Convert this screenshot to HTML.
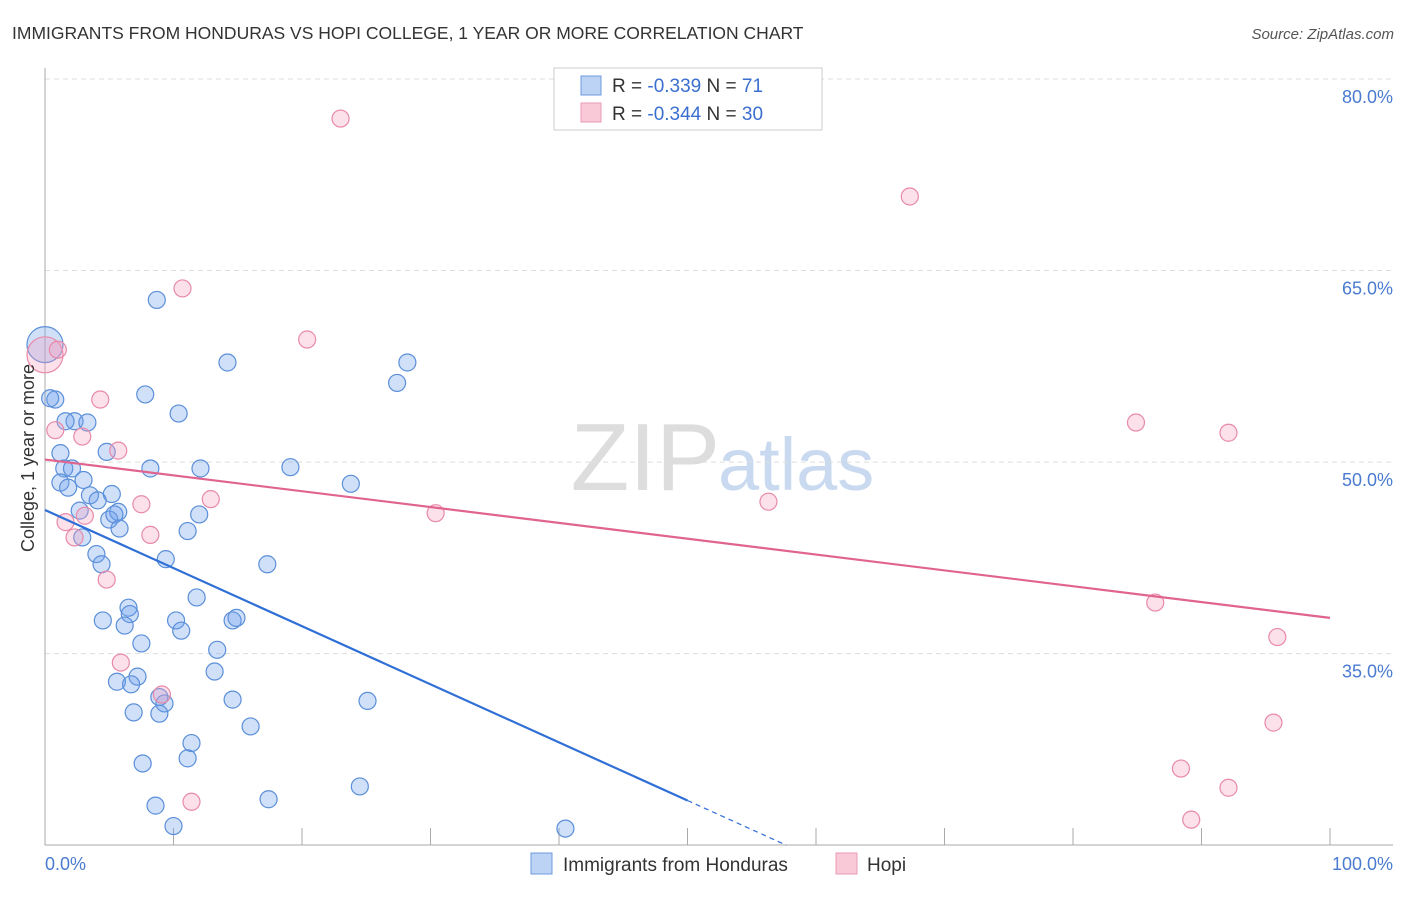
<!DOCTYPE html>
<html><head><meta charset="utf-8"><style>
body{margin:0;background:#fff;font-family:"Liberation Sans",sans-serif}
svg text{font-family:"Liberation Sans",sans-serif}
</style></head><body>
<svg id="c" width="1406" height="892" xmlns="http://www.w3.org/2000/svg">
<text x="12" y="39" font-size="17.5" fill="#333">IMMIGRANTS FROM HONDURAS VS HOPI COLLEGE, 1 YEAR OR MORE CORRELATION CHART</text>
<text x="1394" y="39" font-size="15" fill="#555" text-anchor="end" font-style="italic">Source: ZipAtlas.com</text>
<text x="720" y="490" font-size="96" fill="#ddd" text-anchor="end" font-family="Liberation Serif">ZIP</text>
<text x="718" y="490" font-size="74" fill="#c9daf0">atlas</text>
<g id="grid"></g>
<g id="axes"></g>
<g id="pts"></g>
<g id="lines"></g>
<text transform="translate(34,458) rotate(-90)" font-size="18" fill="#333" text-anchor="middle">College, 1 year or more</text>
<text x="45" y="870" font-size="18" fill="#4a7bd0">0.0%</text>
<text x="1393" y="870" font-size="18" fill="#4a7bd0" text-anchor="end">100.0%</text>
<g>
<rect x="554" y="68" width="268" height="62" fill="#fff" stroke="#ccc"/>
<rect x="581" y="76" width="20" height="19" fill="#bcd3f5" stroke="#6d9be0"/>
<rect x="581" y="103" width="20" height="19" fill="#f9c9d8" stroke="#ec9ab5"/>
<text x="612" y="92" font-size="19" fill="#333">R = <tspan fill="#3a6fd0">-0.339</tspan>   N = <tspan fill="#3a6fd0"> 71</tspan></text>
<text x="612" y="120" font-size="19" fill="#333">R = <tspan fill="#3a6fd0">-0.344</tspan>   N = <tspan fill="#3a6fd0">30</tspan></text>
</g>
<g>
<rect x="531" y="853" width="21" height="21" fill="#bcd3f5" stroke="#6d9be0"/>
<text x="563" y="871" font-size="19" fill="#333">Immigrants from Honduras</text>
<rect x="836" y="853" width="21" height="21" fill="#f9c9d8" stroke="#ec9ab5"/>
<text x="867" y="871" font-size="19" fill="#333">Hopi</text>
</g>
</svg>
<script>
const yTicks=[80,65,50,35];
const yTickLabels=["80.0%","65.0%","50.0%","35.0%"];
const xTicks=[0,10,20,30,40,50,60,70,80,90,100];
const blueX=[0,0.8,0.4,2.3,3.3,1.6,1.2,1.5,1.2,2.1,1.8,3.0,3.5,4.1,5.2,4.8,2.7,2.9,5.0,5.7,5.4,5.8,4.0,4.4,6.5,6.6,6.2,4.5,7.5,7.2,5.6,6.7,6.9,7.6,8.7,7.8,10.4,8.2,12.1,12.0,11.1,9.4,11.8,10.2,10.6,14.6,14.9,13.4,13.2,8.9,9.3,8.9,11.4,11.1,8.6,10.0,14.6,16.0,14.2,19.1,17.3,17.4,23.8,25.1,24.5,27.4,28.2,40.5];
const blueY=[59.2,54.9,55.0,53.2,53.1,53.2,50.7,49.5,48.4,49.5,48.0,48.6,47.4,47.0,47.5,50.8,46.2,44.1,45.5,46.1,45.9,44.8,42.8,42.0,38.6,38.1,37.2,37.6,35.8,33.2,32.8,32.6,30.4,26.4,62.7,55.3,53.8,49.5,49.5,45.9,44.6,42.4,39.4,37.6,36.8,37.6,37.8,35.3,33.6,31.6,31.1,30.3,28.0,26.8,23.1,21.5,31.4,29.3,57.8,49.6,42.0,23.6,48.3,31.3,24.6,56.2,57.8,21.3];
const pinkX=[0,1.0,0.8,2.9,4.3,5.7,1.6,2.3,3.1,4.8,5.9,8.2,7.5,12.9,9.1,11.4,10.7,20.4,23.0,30.4,56.3,67.3,84.9,92.1,86.4,95.9,95.6,88.4,92.1,89.2];
const pinkY=[58.4,58.8,52.5,52.0,54.9,50.9,45.3,44.1,45.8,40.8,34.3,44.3,46.7,47.1,31.8,23.4,63.6,59.6,76.9,46.0,46.9,70.8,53.1,52.3,39.0,36.3,29.6,26.0,24.5,22.0];
const blueTrend=[46.25,-0.455];
const pinkTrend=[50.2,-0.124];
const NS="http://www.w3.org/2000/svg";
const X=v=>45+v*12.85, Y=v=>79+(80-v)*12.77;
function mk(tag,attrs,parent){const e=document.createElementNS(NS,tag);for(const k in attrs)e.setAttribute(k,attrs[k]);parent.appendChild(e);return e;}
const grid=document.getElementById('grid'),axes=document.getElementById('axes'),pts=document.getElementById('pts'),lines=document.getElementById('lines');
yTicks.forEach((t,i)=>{
 const l=mk('line',{x1:45,x2:1393,y1:Y(t),y2:Y(t),stroke:'#ddd','stroke-dasharray':'5,4'},grid);
 
 
 const tx=mk('text',{x:1393,y:Y(t)+24,'font-size':18,fill:'#4a7bd0','text-anchor':'end'},grid);
 tx.textContent=yTickLabels[i];
 
 
});
const ya=mk('line',{x1:45,x2:45,y1:68,y2:845,stroke:'#aaa'},axes);


const xa=mk('line',{x1:45,x2:1393,y1:845,y2:845,stroke:'#aaa'},axes);


xTicks.forEach(t=>{
 const l=mk('line',{x1:X(t),x2:X(t),y1:828,y2:845,stroke:'#aaa'},axes);
 
 
});
function dots(xs,ys,fill,stroke,name){
 xs.forEach((x,i)=>{
  const big=(x===0&&i===0);
  const c=mk('circle',{cx:X(x),cy:Y(ys[i]),r:big?18:8.5,fill:fill,stroke:stroke,'stroke-width':1.2},pts);
  
  
 });
}
dots(blueX,blueY,'rgba(110,160,235,0.32)','#5b8fd9','honduras-point');
dots(pinkX,pinkY,'rgba(245,160,190,0.32)','#e88aa8','hopi-point');
const bEnd=50, bZero=(20-blueTrend[0])/blueTrend[1];
const bl=mk('line',{x1:X(0),y1:Y(blueTrend[0]),x2:X(bEnd),y2:Y(blueTrend[0]+blueTrend[1]*bEnd),stroke:'#2f6fd6','stroke-width':2.2},lines);


const bd=mk('line',{x1:X(bEnd),y1:Y(blueTrend[0]+blueTrend[1]*bEnd),x2:X(bZero),y2:Y(20),stroke:'#2f6fd6','stroke-width':1.2,'stroke-dasharray':'5,4'},lines);


const pl=mk('line',{x1:X(0),y1:Y(pinkTrend[0]),x2:X(100),y2:Y(pinkTrend[0]+pinkTrend[1]*100),stroke:'#e0648f','stroke-width':2.2},lines);


</script>
</body></html>
